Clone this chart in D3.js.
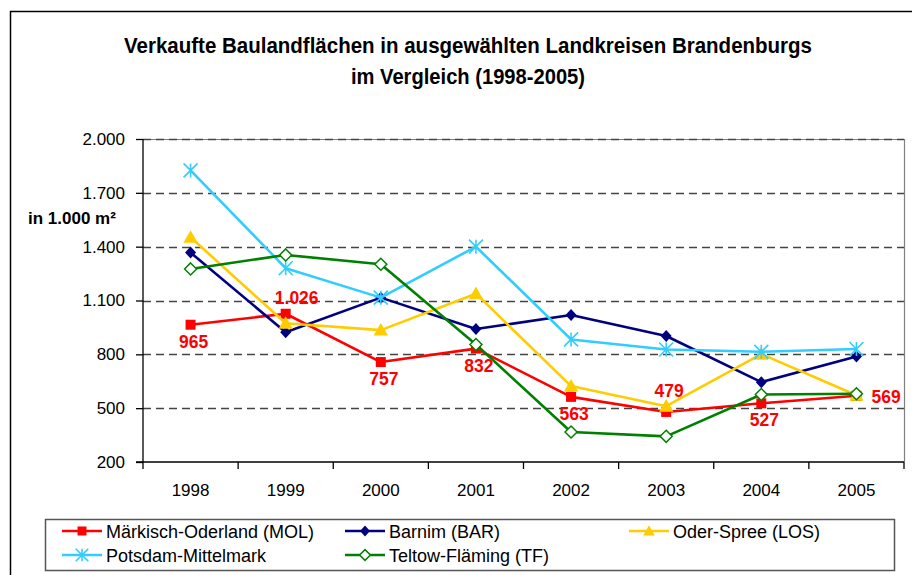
<!DOCTYPE html>
<html><head><meta charset="utf-8">
<script src="https://cdn.jsdelivr.net/npm/d3@7"></script>
<style>
body{margin:0;background:#fff;}
svg{display:block;font-family:"Liberation Sans",Arial,sans-serif;}
</style></head>
<body><svg id="c" width="912" height="575"></svg>
<script>
const years = ["1998","1999","2000","2001","2002","2003","2004","2005"];
const seriesNames = ["Märkisch-Oderland (MOL)","Barnim (BAR)","Oder-Spree (LOS)","Potsdam-Mittelmark","Teltow-Fläming (TF)"];
const mol = [965,1026,757,832,563,479,527,569];
const bar = [1367,923,1116,941,1019,902,645,788];
const los = [1452,973,935,1138,623,511,801,572];
const pm  = [1825,1280,1116,1400,883,827,814,830];
const tf  = [1276,1354,1302,855,367,343,576,580];
const yTicks = [200,500,800,1100,1400,1700,2000];
const titleLines = ["Verkaufte Baulandflächen in ausgewählten Landkreisen Brandenburgs","im Vergleich (1998-2005)"];
const yTitle = "in 1.000 m²";
const molLabelPlace = ["below","above","below","below","below","above","below","right"];

const colors = ["#ff0000","#000080","#ffcc00","#33ccff","#008000"];
const markers = ["square","diamond","triangle","asterisk","diamondOpen"];
const allSeries = [mol,bar,los,pm,tf];
const titleWidths = [688,234];

const de = d3.formatLocale({decimal:",",thousands:".",grouping:[3],currency:["","€"]});
const fmt = de.format(",d");

const svg = d3.select("#c");
// outer frame
svg.append("rect").attr("x",10.5).attr("y",11.5).attr("width",920).attr("height",600)
  .attr("fill","none").attr("stroke","#000").attr("stroke-width",1.5);

// title (condensed bold)
svg.append("g").selectAll("text").data(titleLines).join("text")
  .attr("x",468).attr("y",(d,i)=>53+i*31).attr("text-anchor","middle")
  .attr("textLength",(d,i)=>titleWidths[i]).attr("lengthAdjust","spacingAndGlyphs")
  .style("font-family","'Liberation Sans',Arial,sans-serif")
  .style("font-weight","bold").style("font-size","22.5px").attr("fill","#000").text(d=>d);

const L=143,R=904,T=139,B=462;
const x = d3.scaleBand().domain(years).range([L,R]);
const y = d3.scaleLinear().domain([200,2000]).range([B,T]);
const cx = d=>x(d)+x.bandwidth()/2;

// plot border (gray)
svg.append("path").attr("d",`M${L},${T+0.5}H${R+0.5}V${B}`).attr("fill","none").attr("stroke","#808080").attr("stroke-width",1.2);

// gridlines
svg.append("g").selectAll("line").data(yTicks.filter(v=>v>200)).join("line")
  .attr("x1",L).attr("x2",R).attr("y1",d=>Math.round(y(d))+0.5).attr("y2",d=>Math.round(y(d))+0.5)
  .attr("stroke","#444").attr("stroke-width",1.3).attr("stroke-dasharray","8,5");

// y axis
const yAxis = d3.axisLeft(y).tickValues(yTicks).tickFormat(fmt).tickSize(7).tickPadding(11);
const gy = svg.append("g").attr("transform",`translate(${L},0)`).call(yAxis);
gy.select(".domain").attr("d",`M0,${T}V${B+7}`).attr("stroke","#000").attr("stroke-width",1.3);
gy.selectAll(".tick line").attr("stroke","#000").attr("stroke-width",1.3);
gy.selectAll(".tick text").style("font-size","17px").style("font-family","'Liberation Sans',Arial,sans-serif").attr("fill","#000");

// x axis
const xAxis = d3.axisBottom(x).tickSize(0).tickPadding(22);
const gx = svg.append("g").attr("transform",`translate(0,${B})`).call(xAxis);
gx.select(".domain").attr("d",`M${L-7},0H${R}`).attr("stroke","#000").attr("stroke-width",1.5);
gx.selectAll(".tick text").style("font-size","17px").style("font-family","'Liberation Sans',Arial,sans-serif").attr("fill","#000");
gx.append("g").selectAll("line").data(years.slice(1).concat(["end"])).join("line")
  .attr("x1",d=>d==="end"?R:x(d)).attr("x2",d=>d==="end"?R:x(d)).attr("y1",0).attr("y2",7)
  .attr("stroke","#000").attr("stroke-width",1.3);

// y title
svg.append("text").attr("x",28).attr("y",224).text(yTitle)
  .style("font-weight","bold").style("font-size","17px").attr("fill","#000");

function drawMarker(g,type,color,s){
  if(type==="square"){
    g.append("rect").attr("x",-s/2).attr("y",-s/2).attr("width",s).attr("height",s).attr("fill",color);
  } else if(type==="diamond"){
    g.append("path").attr("d",`M0,${-s*0.6}L${s*0.55},0L0,${s*0.6}L${-s*0.55},0Z`).attr("fill",color);
  } else if(type==="diamondOpen"){
    g.append("path").attr("d",`M0,${-s*0.6}L${s*0.6},0L0,${s*0.6}L${-s*0.6},0Z`).attr("fill","#fff").attr("stroke",color).attr("stroke-width",1.5);
  } else if(type==="triangle"){
    g.append("path").attr("d",`M0,${-s*0.65}L${s*0.65},${s*0.5}L${-s*0.65},${s*0.5}Z`).attr("fill",color);
  } else if(type==="asterisk"){
    const r=s*0.7;
    g.append("path").attr("d",`M${-r},${-r}L${r},${r}M${-r},${r}L${r},${-r}M0,${-r}V${r}`)
      .attr("stroke",color).attr("stroke-width",1.6).attr("fill","none");
  }
}

const line = d3.line().x((d,i)=>cx(years[i])).y(d=>y(d));
allSeries.forEach((vals,si)=>{
  const g = svg.append("g");
  g.append("path").datum(vals).attr("d",line).attr("fill","none").attr("stroke",colors[si]).attr("stroke-width",2.6).attr("stroke-linejoin","round");
  vals.forEach((v,i)=>{
    const mg = g.append("g").attr("transform",`translate(${cx(years[i])},${y(v)})`);
    drawMarker(mg,markers[si],colors[si],si===2?11:10);
  });
});

// MOL data labels
svg.append("g").selectAll("text").data(mol).join("text")
  .attr("x",(d,i)=>{const p=molLabelPlace[i];return cx(years[i])+(p==="right"?15:(i===1?11:3));})
  .attr("y",(d,i)=>{const p=molLabelPlace[i];return y(d)+(p==="below"?23:(p==="above"?(i===1?-10:-15):7));})
  .attr("text-anchor",(d,i)=>molLabelPlace[i]==="right"?"start":"middle")
  .style("font-weight","bold").style("font-size","17.5px").attr("fill","#ff0000").text(d=>fmt(d));

// legend
svg.append("rect").attr("x",45.5).attr("y",519.5).attr("width",849).attr("height",51)
  .attr("fill","#fff").attr("stroke","#555").attr("stroke-width",1.5);
const legPos = [[62,531],[345,531],[629,531],[62,555],[345,555]];
seriesNames.forEach((n,si)=>{
  const [lx,ly]=legPos[si];
  const g = svg.append("g").attr("transform",`translate(${lx},${ly})`);
  g.append("line").attr("x1",0).attr("x2",40).attr("stroke",colors[si]).attr("stroke-width",2.6);
  const mg = g.append("g").attr("transform","translate(20,0)");
  drawMarker(mg,markers[si],colors[si],9);
  g.append("text").attr("x",44).attr("y",6.5).text(n).style("font-size","18px").attr("fill","#000");
});
</script></body></html>
